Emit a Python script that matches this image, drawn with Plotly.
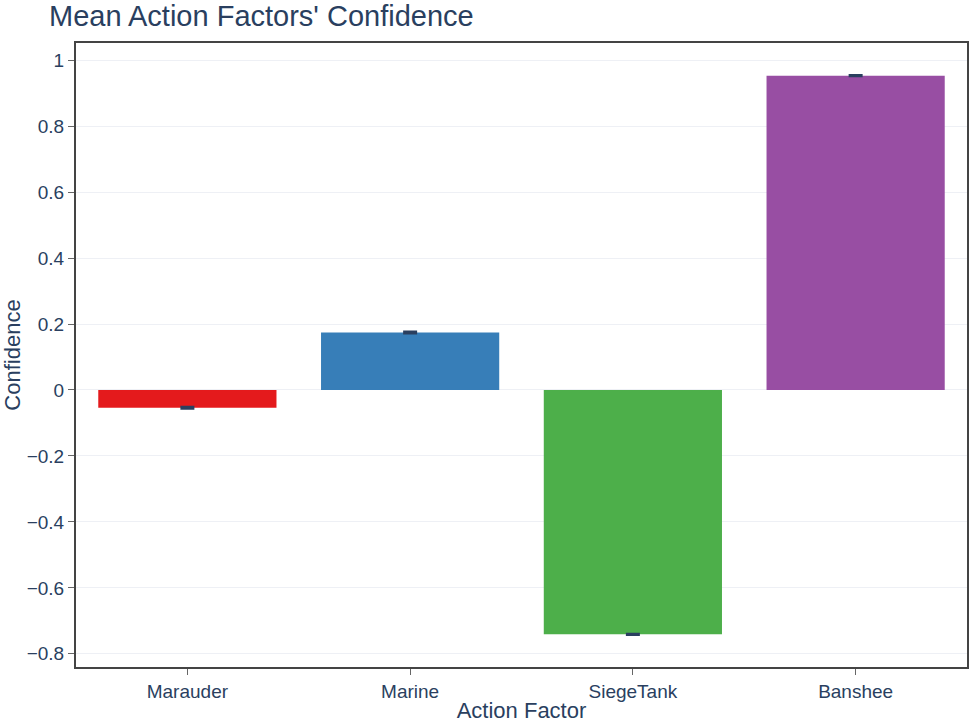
import plotly.graph_objects as go

categories = ["Marauder", "Marine", "SiegeTank", "Banshee"]
means = [-0.054, 0.174, -0.741, 0.953]
errors = [0.003, 0.003, 0.002, 0.002]
colors = ["#e41a1c", "#377eb8", "#4daf4a", "#984ea3"]

fig = go.Figure(
    go.Bar(
        x=categories,
        y=means,
        marker=dict(color=colors, line=dict(width=0)),
        error_y=dict(type="data", array=errors, visible=True, color="#2a3f5f", thickness=2, width=7),
    )
)

fig.update_layout(
    template="plotly_white",
    width=969,
    height=727,
    margin=dict(l=76, r=2, t=43, b=60),
    font=dict(family="Liberation Sans, Arial, sans-serif", size=19, color="#2a3f5f"),
    title=dict(text="Mean Action Factors' Confidence", x=0.0506, xanchor="left", y=0.978, yanchor="middle",
               font=dict(size=29)),
    bargap=0.2,
    showlegend=False,
    xaxis=dict(title=dict(text="Action Factor", font=dict(size=22), standoff=2), automargin=False,
               showline=True, linecolor="#444", linewidth=2, mirror=True,
               ticks="outside", tickcolor="#666", ticklen=6),
    yaxis=dict(title=dict(text="Confidence", font=dict(size=22), standoff=11), automargin=False,
               range=[-0.84, 1.052], dtick=0.2, zeroline=False,
               showline=True, linecolor="#444", linewidth=2, mirror=True,
               ticks="outside", tickcolor="#666", ticklen=6,
               gridcolor="#eef0f5"),
)

fig.write_html(
    "out.html",
    config={"displayModeBar": False},
    post_script="document.body.style.margin='0';document.body.style.overflow='hidden';",
)
